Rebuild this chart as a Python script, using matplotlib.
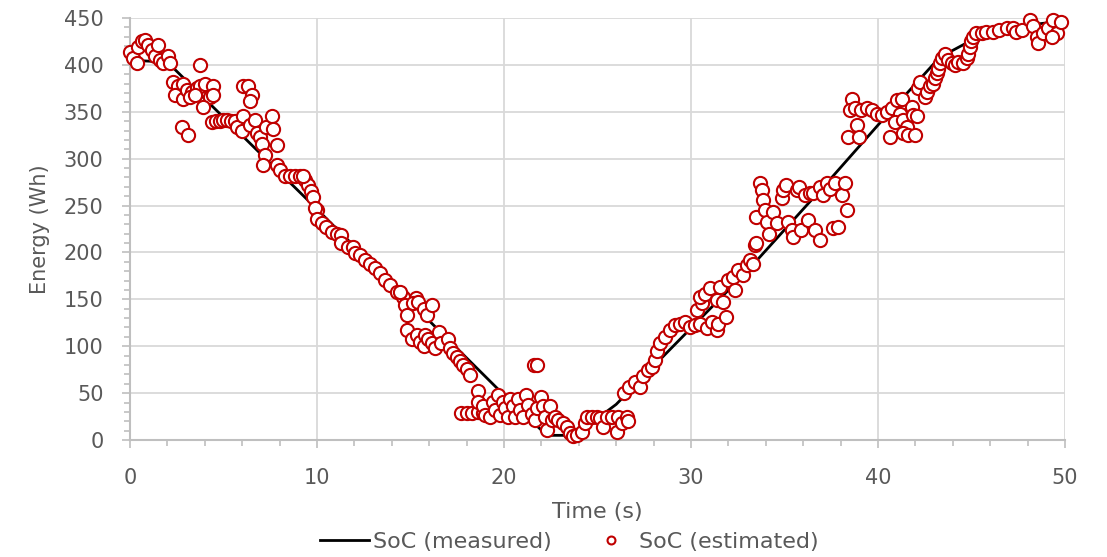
import matplotlib
matplotlib.use("Agg")
import matplotlib.pyplot as plt
from matplotlib.ticker import MultipleLocator

plt.rcParams["font.family"] = ["DejaVu Sans"]

# measured SoC (black line)
meas_t = [0, 2.0, 9.5, 15.0, 20.0, 22.3, 23.8, 26.0, 29.0, 33.0, 37.4, 40.1,
          43.3, 44.8, 46.0, 48.7, 50.0]
meas_e = [405, 403, 256, 147, 48, 5, 5, 38, 99, 180, 277, 338,
          408, 424, 432, 444, 447]

# estimated SoC (red open circles)
est_t = [
    0.0, 0.18, 0.36, 0.45, 0.62, 0.8, 0.98, 1.16, 1.34, 1.51, 1.6, 1.78, 2.05, 2.14,
    3.74, 2.32, 2.58, 2.85, 2.41, 2.85, 3.03, 3.3, 3.57, 3.74, 4.0, 4.45, 4.28, 4.45,
    3.92, 3.2, 3.48, 2.76, 3.12,
    4.4, 4.6, 4.8, 5.0, 5.2, 5.4, 5.6,
    5.7, 5.97, 6.06, 6.4, 6.68, 6.78, 6.95, 7.04, 7.2, 7.13, 7.3, 7.58, 7.66, 7.84,
    6.06, 6.33, 6.5, 6.42,
    7.84, 8.02, 8.29, 8.56, 8.82, 9.1, 9.36, 9.53, 9.7, 9.8, 10.0,
    9.27, 9.9, 9.98, 10.25, 10.5, 10.78, 11.05, 11.3, 11.3, 11.67, 11.95, 12.03, 12.3,
    12.57, 12.83, 13.1, 13.37, 13.64, 13.9, 14.26, 14.6, 15.3,
    14.44, 14.7, 14.8, 15.15, 15.4, 15.7, 15.86, 16.13, 14.8, 15.06, 15.33, 15.5,
    15.7, 15.77, 15.95, 16.13, 16.3, 16.5, 16.66, 17.0, 17.1, 17.3, 17.47, 17.65,
    17.8, 18.0, 18.2,
    17.7, 18.0, 18.3, 18.6, 18.9,
    18.63, 18.63, 18.9, 19.0, 19.25, 19.43, 19.5, 19.7, 19.8, 19.96, 20.05, 20.23,
    20.3, 20.5, 20.6, 20.77, 20.86, 21.03, 21.2, 21.3, 21.48, 21.66, 21.75, 22.0,
    22.1, 22.2, 22.3, 22.46, 22.55, 22.73, 22.9, 23.17, 23.35, 23.53, 23.7, 23.9,
    24.15, 24.33, 24.42, 24.7, 24.96, 25.13, 25.3, 25.5, 25.76, 26.03, 26.1, 26.3,
    26.56, 26.65, 21.62, 21.75,
    26.4, 26.7, 27.0, 27.3, 27.45, 27.7, 27.9, 28.1, 28.2,
    28.34, 28.6, 28.9, 29.14, 29.4, 29.7, 29.95, 30.2, 30.48, 30.84, 31.1, 31.37,
    31.46, 31.9, 30.3, 30.57, 30.48, 30.75, 31.0, 31.37, 31.7, 31.55, 32.0, 32.26,
    32.35, 32.53, 32.8, 33.0, 33.15, 33.33, 33.4, 33.5, 33.5,
    33.7, 33.78, 33.87, 33.96, 34.05, 34.2, 34.4, 34.6, 34.85, 34.94, 35.1, 35.2,
    35.4, 35.47, 35.65, 35.8, 35.9, 36.1, 36.27, 36.36, 36.54, 36.63, 36.9, 36.9,
    37.07, 37.25, 37.43, 37.6, 37.7, 37.88, 38.06, 38.24, 38.33,
    38.6, 38.5, 38.77, 38.86, 38.4, 39.0, 39.1, 39.4, 39.66, 39.93, 40.2, 40.47,
    40.73, 41.0, 41.27, 41.18, 40.9, 40.64, 41.35, 41.53, 41.35, 41.8, 41.9, 42.07,
    41.6, 41.98,
    42.16, 42.25, 42.5, 42.6, 42.8, 42.96, 43.05, 43.14, 43.2, 43.3, 43.4, 43.6,
    43.76, 43.94, 44.1, 44.3, 44.56, 44.74, 44.83, 44.9, 45.0, 45.1, 45.27, 45.54,
    45.8, 46.17, 46.5, 46.9, 47.23, 47.4, 47.7, 48.13, 48.3, 48.5, 48.57, 48.84,
    49.1, 49.37, 49.55, 49.8, 49.3,
]
est_e = [
    414, 407, 402, 419, 425, 426, 421, 416, 410, 421, 405, 402, 409, 402,
    400, 382, 378, 380, 368, 364, 373, 371, 375, 378, 380, 378, 366, 368,
    355, 366, 368, 334, 325,
    339, 340, 340, 341, 341, 340, 340,
    334, 329, 345, 336, 341, 327, 323, 316, 304, 293, 334, 345, 332, 315,
    378, 378, 368, 361,
    293, 288, 282, 282, 282, 281, 277, 272, 266, 259, 245,
    282, 247, 236, 231, 227, 222, 220, 219, 210, 206, 206, 199, 197,
    192, 188, 183, 178, 171, 165, 158, 153, 151,
    158, 144, 133, 146, 147, 140, 133, 144, 117, 108, 112, 105,
    100, 112, 108, 103, 98, 115, 103, 108, 98, 93, 89, 84,
    80, 76, 69,
    29, 29, 29, 30, 29,
    52, 41, 36, 27, 25, 41, 32, 48, 27, 41, 34, 25,
    44, 36, 25, 44, 32, 25, 48, 37, 28, 21, 34, 46,
    36, 25, 11, 36, 21, 25, 21, 18, 14, 7, 4, 5,
    9, 18, 25, 25, 25, 23, 14, 25, 25, 9, 25, 18,
    25, 20, 80, 80,
    50, 57, 62, 57, 68, 75, 78, 85, 95,
    103, 110, 117, 123, 124, 126, 121, 123, 124, 119, 126, 117,
    124, 131, 139, 146, 153, 156, 162, 149, 147, 163, 171, 174,
    160, 181, 176, 187, 192, 188, 208, 210, 238,
    274, 267, 256, 245, 233, 220, 243, 231, 258, 267, 272, 233,
    224, 217, 267, 270, 224, 261, 235, 263, 263, 224, 213, 270,
    261, 274, 268, 226, 274, 227, 261, 274, 245,
    364, 352, 354, 336, 323, 323, 352, 354, 352, 348, 347, 350,
    354, 363, 364, 348, 339, 323, 341, 334, 327, 355, 347, 345,
    325, 325,
    375, 382, 366, 371, 377, 380, 386, 391, 396, 402, 407, 412,
    405, 402, 400, 403, 402, 407, 412, 419, 425, 430, 434, 434,
    435, 435, 437, 439, 439, 435, 437, 448, 441, 430, 423, 434,
    439, 448, 434, 446, 430,
]

GRID = "#D9D9D9"
AXIS = "#BFBFBF"
TXT = "#595959"
RED = "#C00000"

fig = plt.figure(figsize=(11.07, 5.57), dpi=100)
ax = fig.add_axes([0.1174, 0.21, 0.8446, 0.7577])

ax.plot(meas_t, meas_e, color="black", lw=2.0, label="SoC (measured)", zorder=2)
ax.plot(est_t, est_e, ls="none", marker="o", ms=9.5, mfc="white", mec=RED,
        mew=1.5, label="SoC (estimated)", zorder=3, clip_on=False)

ax.set_xlim(0, 50)
ax.set_ylim(0, 450)
ax.xaxis.set_major_locator(MultipleLocator(10))
ax.xaxis.set_minor_locator(MultipleLocator(2))
ax.yaxis.set_major_locator(MultipleLocator(50))
ax.yaxis.set_minor_locator(MultipleLocator(10))
ax.grid(True, which="major", color=GRID, lw=1.3, zorder=0)
ax.set_axisbelow(True)

for s in ("top", "right"):
    ax.spines[s].set_visible(False)
for s in ("left", "bottom"):
    ax.spines[s].set_color(AXIS)
    ax.spines[s].set_linewidth(1.5)

ax.tick_params(which="both", color=AXIS, width=1.2, direction="out")
ax.tick_params(which="major", length=6, labelsize=15, labelcolor=TXT)
ax.tick_params(which="minor", length=4.5)
ax.tick_params(axis="y", which="major", pad=13)
ax.tick_params(axis="x", which="major", pad=14)

ax.set_xlabel("Time (s)", fontsize=16, color=TXT, labelpad=10)
ax.set_ylabel("Energy (Wh)", fontsize=15, color=TXT, labelpad=10)

fig.legend(loc="center", bbox_to_anchor=(0.5145, 0.027), ncol=2,
           frameon=False, fontsize=16, labelcolor=TXT, handlelength=2.2,
           columnspacing=1.6, handletextpad=0.15, markerscale=0.6)

fig.savefig("out.png", dpi=100)
